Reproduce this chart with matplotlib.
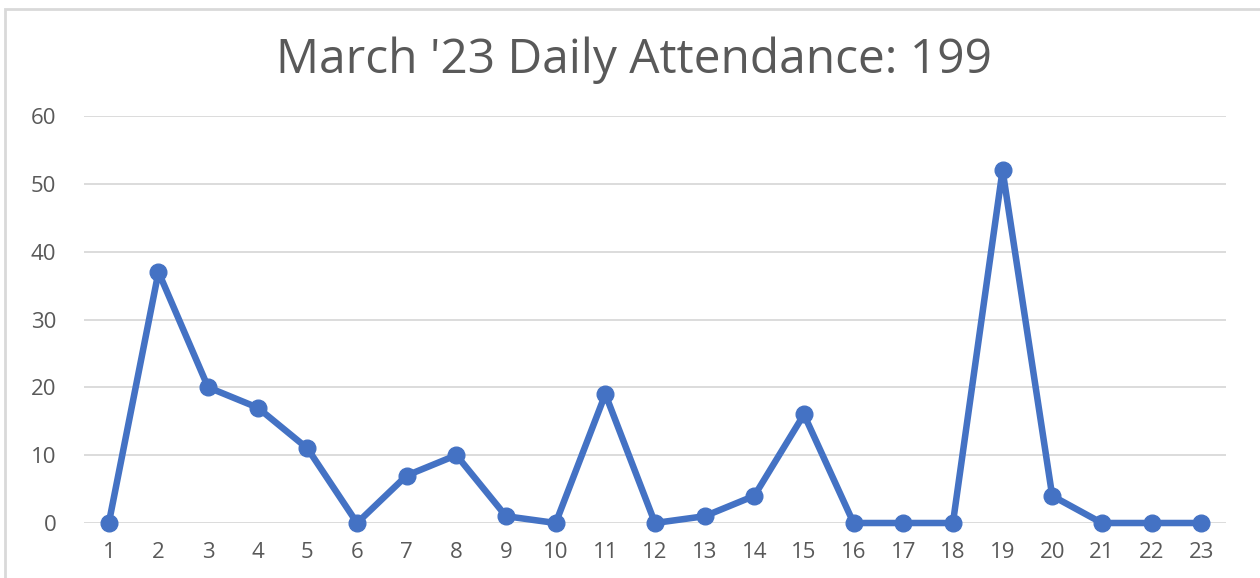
import numpy as np
import matplotlib.pyplot as plt
from matplotlib.patches import Rectangle

# daily attendance, March '23
days = list(range(1, 24))
attendance = [0, 37, 20, 17, 11, 0, 7, 10, 1, 0, 19, 0, 1, 4, 16, 0, 0, 0, 52, 4, 0, 0, 0]
title = "March '23 Daily Attendance: 199"
y_ticks = [0, 10, 20, 30, 40, 50, 60]

plt.rcParams["font.family"] = ["Open Sans", "DejaVu Sans"]
text_color = "#595959"
grid_color = "#d9d9d9"
line_color = "#4472c4"

fig = plt.figure(figsize=(12.6, 5.78), dpi=100)
ax = fig.add_axes([84 / 1260, 55 / 578, (1226 - 84) / 1260, (523 - 116) / 578])

ax.plot(days, attendance, color=line_color, linewidth=4.7, marker="o",
        markersize=12, solid_joinstyle="round", clip_on=False, zorder=3)

ax.set_xlim(0.5, 23.5)
ax.set_ylim(0, 60)
ax.set_xticks(days)
ax.set_yticks(y_ticks)
ax.tick_params(axis="both", length=0, labelsize=16, labelcolor=text_color)
ax.tick_params(axis="y", pad=20)
ax.tick_params(axis="x", pad=14)
ax.grid(axis="y", color=grid_color, linewidth=1.3)
ax.set_axisbelow(True)
for s in ax.spines.values():
    s.set_visible(False)

fig.text(634 / 1260, 1 - 60 / 578, title, ha="center", va="center",
         fontsize=34.5, color=text_color)

# chart frame
fig.patches.append(Rectangle((5 / 1260, -0.1), 1.2, 1 - 9 / 578 + 0.1,
                             transform=fig.transFigure, fill=False,
                             edgecolor=grid_color, linewidth=2))

fig.savefig("out.png", dpi=100)
